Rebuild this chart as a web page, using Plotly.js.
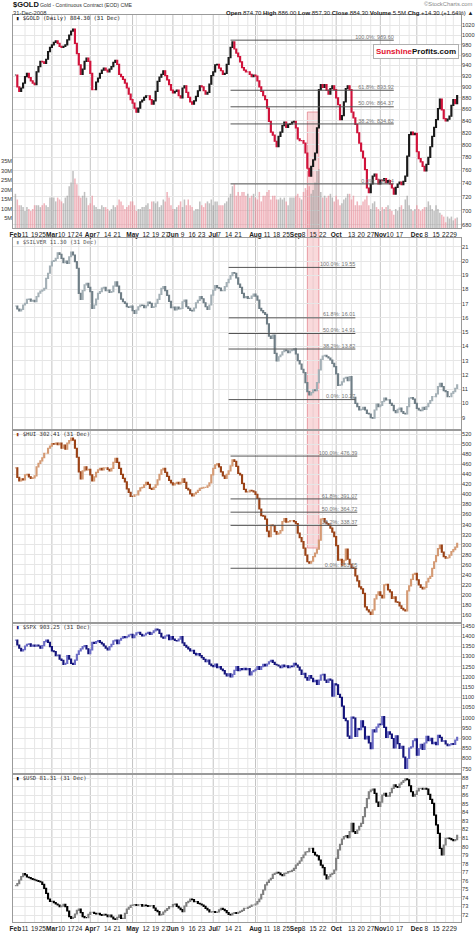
<!DOCTYPE html>
<html><head><meta charset="utf-8">
<script src="https://cdn.plot.ly/plotly-3.0.1.min.js"></script>
<style>html,body{margin:0;padding:0;background:#fff;}#chart{width:476px;height:933px;}</style>
</head><body><div id="chart"></div>
<script>
// ---------- DATA ----------
const holidays = ['2008-02-18','2008-03-21','2008-05-26','2008-07-04','2008-09-01','2008-11-27','2008-12-25'];

const goldClose = [922,900,892,898,907,919,925,917,911,907,
904,928,938,948,947,944,952,967,975,980,
985,988,983,977,975,977,980,990,1000,1008,
1012,983,963,941,923,933,948,954,948,925,
895,895,909,916,925,931,935,931,928,933,
938,946,950,942,923,919,914,907,898,887,
877,871,862,855,862,873,876,881,884,884,
877,869,875,892,910,918,923,930,921,913,
904,894,889,892,894,884,880,898,902,890,
881,873,869,875,883,893,902,900,893,887,
890,905,921,928,941,942,935,930,923,925,
942,955,975,986,972,964,957,947,936,931,
928,928,923,919,922,920,911,900,892,884,
877,862,839,821,816,806,797,814,821,832,
838,829,834,835,838,839,828,810,807,807,
803,787,763,751,766,776,787,828,895,904,
899,904,894,887,897,902,895,880,868,842,
849,873,897,902,895,855,845,834,820,803,
790,779,761,733,726,739,751,754,746,739,
745,744,747,741,744,739,733,724,734,739,
742,738,743,751,782,817,821,817,819,789,
778,773,766,759,769,780,797,814,829,842,
861,878,859,844,840,843,848,867,877,870,
884.3];

const goldVolumeM = [18,15,12,12,11,9,11,10,9,10,
12,12,12,11,12,13,12,11,16,16,
16,14,16,15,14,13,16,17,22,24,
30,26,23,17,16,17,19,16,12,13,
17,12,11,10,10,12,11,11,10,9,
10,12,11,12,15,14,12,10,11,12,
14,14,12,9,10,10,11,11,12,13,
10,14,14,13,14,11,12,15,14,19,
16,12,10,10,11,12,14,11,15,12,
15,12,11,9,10,10,14,12,11,13,
14,13,15,12,14,14,12,12,12,13,
14,16,18,22,23,17,19,17,19,19,
17,18,16,17,18,16,15,19,14,17,
17,19,20,15,17,17,15,15,16,15,
16,14,12,16,16,16,17,18,16,15,
19,21,20,22,18,20,24,30,31,19,
16,17,16,17,18,16,14,17,15,12,
13,15,16,18,18,15,17,12,14,12,
12,14,15,17,12,10,13,14,11,10,
9,11,10,11,12,10,9,7,10,9,
11,12,10,15,17,12,10,9,10,12,
10,9,10,11,11,14,12,10,9,12,
10,8,7,6,3,6,5,6,4,5,
5.5];

const silverClose = [16.84,16.63,16.49,16.6,16.91,17.03,17.31,17.33,17.19,17.24,
17.14,17.5,17.75,17.89,17.96,18.08,18.78,19.14,19.65,19.98,
20.02,20.19,20.58,20.47,20.19,19.88,20.0,19.84,20.3,20.63,
20.42,19.95,19.49,17.73,17.31,17.92,18.32,18.43,18.15,17.85,
16.68,16.91,17.33,17.73,17.85,18.1,18.15,17.92,17.96,17.8,
17.85,18.24,18.53,18.24,17.77,17.33,17.14,17.03,16.79,16.75,
16.84,16.51,16.32,16.56,16.79,16.91,16.88,16.72,16.86,17.12,
17.03,16.75,16.79,17.03,17.31,17.66,18.08,18.2,17.92,17.59,
17.17,16.72,16.77,16.56,16.77,16.63,16.68,17.14,17.26,16.79,
16.68,16.54,16.49,16.7,17.07,17.24,17.5,17.35,17.07,16.79,
16.6,16.91,17.61,17.96,18.27,18.13,18.1,17.92,17.92,18.2,
18.48,18.72,18.97,19.19,19.14,18.81,18.38,18.15,17.73,17.43,
17.5,17.38,17.38,17.54,17.68,17.54,17.26,16.68,16.51,16.37,
16.26,15.58,14.73,14.57,14.8,13.52,12.98,13.28,13.4,13.63,
13.75,13.7,13.56,13.7,13.75,13.84,13.47,13.0,12.77,12.4,
12.16,11.46,10.83,10.6,10.76,10.95,10.9,11.46,12.35,13.1,
13.33,13.38,13.28,13.19,13.05,12.82,12.58,12.07,11.27,11.3,
11.51,11.77,11.84,11.6,11.88,10.37,10.43,10.01,9.78,9.54,
9.59,9.73,9.54,9.31,9.26,9.0,8.96,9.54,9.96,9.78,
9.87,10.13,10.37,10.25,10.25,10.01,9.87,9.5,9.36,9.59,
9.68,9.43,9.31,9.26,9.78,10.37,10.41,10.3,10.01,9.66,
9.54,9.5,9.73,9.59,9.78,10.01,10.2,10.48,10.48,10.67,
11.18,11.41,11.18,10.9,10.83,10.48,10.48,10.71,10.83,11.06,
11.30];

const huiClose = [453,434,427,431,429,439,440,435,432,433,
437,455,462,467,473,482,482,492,496,501,
500,502,499,502,492,498,490,502,507,512,
508,492,474,445,431,447,455,449,450,439,
427,435,444,449,452,449,453,453,450,447,
452,464,472,464,452,440,432,425,411,404,
396,396,399,399,407,413,414,419,424,420,
412,410,414,419,429,440,449,452,444,436,
428,423,419,422,424,421,424,431,424,412,
409,401,397,401,404,408,412,413,414,414,
417,423,439,452,459,461,455,445,437,432,
440,447,457,469,466,456,442,439,422,410,
405,405,408,407,405,400,392,371,358,357,
351,327,316,339,338,326,321,323,328,346,
352,345,346,348,348,346,342,323,314,306,
293,279,266,263,267,276,283,291,309,351,
352,345,342,339,333,325,316,298,269,271,
259,269,291,271,261,254,253,238,228,216,
212,203,176,170,166,161,170,192,200,206,
199,194,220,221,210,206,193,196,186,185,
178,173,170,168,208,218,231,241,243,230,
220,215,212,215,226,233,237,253,266,278,
292,299,285,276,273,274,279,286,290,295,
302.41];

const spxClose = [1380,1356,1340,1327,1333,1351,1359,1361,1350,1356,
1350,1356,1351,1340,1353,1372,1380,1369,1348,1327,
1323,1304,1307,1287,1281,1261,1266,1304,1287,1266,
1261,1282,1310,1327,1337,1348,1353,1337,1314,1332,
1369,1364,1372,1378,1369,1361,1351,1341,1332,1348,
1359,1376,1380,1363,1380,1389,1397,1392,1397,1405,
1408,1392,1405,1415,1418,1408,1400,1405,1413,1418,
1408,1416,1425,1434,1430,1413,1395,1389,1400,1405,
1382,1397,1385,1378,1376,1385,1397,1366,1354,1346,
1337,1327,1330,1315,1307,1314,1304,1294,1286,1274,
1282,1262,1255,1250,1262,1245,1250,1238,1230,1215,
1205,1215,1200,1212,1232,1250,1230,1240,1235,1242,
1235,1240,1209,1225,1230,1237,1250,1237,1250,1261,
1254,1263,1274,1281,1271,1261,1258,1253,1245,1258,
1250,1254,1245,1253,1250,1266,1258,1248,1233,1212,
1217,1196,1184,1206,1193,1176,1183,1163,1184,1209,
1212,1184,1173,1189,1184,1106,1166,1161,1114,1099,
1057,997,985,910,899,1003,998,908,946,941,
985,955,896,909,877,848,941,930,954,968,
966,1005,953,904,930,919,898,852,911,873,
850,859,807,752,800,851,857,887,896,816,
848,870,845,876,909,888,899,873,879,868,
913,904,885,887,871,863,868,873,869,890,
903.25];

const usdClose = [75.43,75.66,76.09,76.48,76.83,76.68,76.44,76.36,76.25,76.17,
76.09,76.01,75.94,75.86,75.59,75.12,74.53,73.87,73.6,73.6,
73.44,73.29,73.17,72.98,73.05,73.25,72.98,72.47,71.81,71.61,
71.73,72.12,72.55,72.7,72.28,71.81,71.69,71.69,72.08,72.31,
72.31,72.2,72.12,72.2,72.04,71.96,72.08,72.0,71.81,72.0,
71.77,71.54,71.5,71.73,72.0,71.61,71.61,72.2,72.7,72.9,
73.13,73.17,73.21,73.13,73.21,73.21,73.05,73.17,73.09,73.02,
73.09,73.09,72.82,72.55,72.39,72.0,72.08,72.35,72.55,72.74,
72.98,72.98,73.21,73.29,73.02,72.82,72.63,72.39,73.05,73.44,
73.6,73.87,73.79,73.56,73.56,73.37,73.29,73.17,73.02,72.78,
72.59,72.35,72.35,72.39,72.31,72.35,72.59,72.78,72.66,72.51,
72.28,72.08,72.0,72.2,72.28,72.2,72.31,72.43,72.55,72.78,
72.78,72.9,73.02,73.17,73.17,73.29,73.56,73.87,74.42,74.92,
75.51,75.82,76.09,76.29,76.75,76.87,76.99,76.91,76.71,76.6,
76.87,76.91,77.06,77.1,77.22,77.45,77.84,78.04,78.31,78.7,
79.01,79.36,79.4,79.79,79.79,79.32,79.01,78.9,78.43,77.84,
77.53,76.68,76.21,76.48,76.75,76.87,77.26,78.62,79.6,80.26,
80.88,81.15,81.27,81.04,81.74,82.71,81.74,81.54,81.93,82.36,
82.71,83.49,84.54,85.6,86.4,86.6,86.7,86.2,85.2,84.7,
85.2,86.0,86.2,85.9,85.9,86.3,86.8,87.2,87.0,86.9,
87.3,87.5,87.7,87.9,87.8,87.1,86.4,85.9,86.1,86.5,
86.8,86.8,86.7,86.8,86.7,86.1,85.5,85.05,83.68,82.52,
81.54,79.79,79.01,80.18,80.96,81.0,80.92,80.8,80.69,80.8,
81.31];

const tickDates = ['2008-02-04','2008-02-11','2008-02-19','2008-02-25','2008-03-03','2008-03-10','2008-03-17','2008-03-24','2008-04-01','2008-04-07','2008-04-14','2008-04-21','2008-04-28','2008-05-01','2008-05-05','2008-05-12','2008-05-19','2008-05-27','2008-06-02','2008-06-09','2008-06-16','2008-06-23','2008-07-01','2008-07-07','2008-07-14','2008-07-21','2008-07-28','2008-08-01','2008-08-04','2008-08-11','2008-08-18','2008-08-25','2008-09-02','2008-09-08','2008-09-15','2008-09-22','2008-09-29','2008-10-01','2008-10-06','2008-10-13','2008-10-20','2008-10-27','2008-11-03','2008-11-10','2008-11-17','2008-11-24','2008-12-01','2008-12-08','2008-12-15','2008-12-22','2008-12-29'];
const tickLabels = ['Feb','11','19','25','Mar','10','17','24','Apr','7','14','21','','May','','12','19','27','Jun','9','16','23','Jul','7','14','21','','Aug','','11','18','25','Sep','8','15','22','','Oct','','13','20','27','Nov','10','17','','Dec','8','15','22','29'];
const monthLabels = ['Feb','Mar','Apr','May','Jun','Jul','Aug','Sep','Oct','Nov','Dec'];
const monthStarts = ['2008-02-04','2008-03-03','2008-04-01','2008-05-01','2008-06-02','2008-07-01','2008-08-01','2008-09-02','2008-10-01','2008-11-03','2008-12-01'];

const fibNames = ['100.0%','61.8%','50.0%','38.2%','0.0%'];
const goldFib = [989.60, 893.92, 864.37, 834.82, 739.14];
const silverFib = [19.55, 16.01, 14.91, 13.82, 10.27];
const huiFib = [476.39, 391.07, 364.72, 338.37, 253.05];
const goldFibDates = ['2008-07-15','2008-11-12'];
const silverFibDates = ['2008-07-14','2008-10-15'];
const huiFibDates = ['2008-07-15','2008-10-16'];
const bandDates = ['2008-09-10','2008-09-18'];
const goldHeaderOHL = [874.70, 886.00, 857.30];
const goldLastVolume = '5.5M';

const goldTicks = [680,700,720,740,760,780,800,820,840,860,880,900,920,940,960,980,1000,1020];
const volTicks = [5,10,15,20,25,30,35];
const silverTicks = [9,10,11,12,13,14,15,16,17,18,19,20,21];
const huiTicks = [160,180,200,220,240,260,280,300,320,340,360,380,400,420,440,460,480,500,520];
const spxTicks = [750,800,850,900,950,1000,1050,1100,1150,1200,1250,1300,1350,1400,1450];
const usdTicks = [72,73,74,75,76,77,78,79,80,81,82,83,84,85,86,87,88];

// ---------- BUILD ----------
function tradingDays(){
  const out=[]; let t=Date.UTC(2008,1,4); const end=Date.UTC(2008,11,31);
  while(t<=end){const d=new Date(t);const wd=d.getUTCDay();const s=d.toISOString().slice(0,10);
    if(wd!==0&&wd!==6&&!holidays.includes(s)) out.push(s); t+=86400000;}
  return out;
}
const days = tradingDays();
const pos = d => days.indexOf(d);
const X = days.map((d,i)=>i);

function candle(close, xa, ya, upLine, upFill, dnLine, dnFill){
  const open = close.map((c,i)=> i===0 ? c : close[i-1]);
  return {type:'candlestick', x:X, open:open,
    high: close.map((c,i)=>Math.max(c,open[i])), low: close.map((c,i)=>Math.min(c,open[i])),
    close:close, xaxis:xa, yaxis:ya, whiskerwidth:0, hoverinfo:'skip', showlegend:false,
    increasing:{line:{color:upLine,width:1.2}, fillcolor:upFill},
    decreasing:{line:{color:dnLine,width:1.2}, fillcolor:dnFill}};
}
function fibTraces(levels, dates, xa, ya){
  const x0=pos(dates[0]), x1=pos(dates[1]); const tr=[];
  levels.forEach((v,k)=>{
    tr.push({type:'scatter',mode:'lines',x:[x0,x1],y:[v,v],xaxis:xa,yaxis:ya,
      line:{color:'#555',width:1},hoverinfo:'skip',showlegend:false});
  });
  tr.push({type:'scatter',mode:'text',x:levels.map(()=>x1),y:levels,xaxis:xa,yaxis:ya,
    text:levels.map((v,k)=>fibNames[k]+': '+v.toFixed(2)),textposition:'top left',
    textfont:{family:'Liberation Sans',size:5.5,color:'#777'},hoverinfo:'skip',showlegend:false});
  return tr;
}

const volColors = goldClose.map((c,i)=> (i>0 && c<goldClose[i-1]) ? 'rgba(232,140,152,0.65)' : 'rgba(150,150,150,0.6)');

const traces = [
  {type:'bar', x:X, y:goldVolumeM.map(v=>v*1e6), xaxis:'x', yaxis:'y', marker:{color:volColors,line:{width:0}}, hoverinfo:'skip', showlegend:false},
  candle(goldClose,'x','y2','#1a1a1a','#1a1a1a','#d0123a','#d0123a'),
  ...fibTraces(goldFib, goldFibDates, 'x','y2'),
  candle(silverClose,'x2','y3','#a4b0b6','#c4ccd0','#6f7e86','#6f7e86'),
  ...fibTraces(silverFib, silverFibDates, 'x2','y3'),
  candle(huiClose,'x3','y4','#d49a74','#e8c0a4','#9a4216','#9a4216'),
  ...fibTraces(huiFib, huiFibDates, 'x3','y4'),
  candle(spxClose,'x4','y5','#6a6ac4','#9a9ad8','#13137a','#13137a'),
  candle(usdClose,'x5','y6','#808080','#a0a0a0','#000000','#000000')
];

const tickPos = tickDates.map(pos);
const tickText = tickLabels.map(t => monthLabels.includes(t) ? '<b>'+t+'</b>' : t);

const PT=15, PB=922, H=PB-PT; const PL=13, PR=461, W=PR-PL;
const fy = py => (PB-py)/H;
const fx = px => (px-PL)/W;

const gridC='#e6e6e6', lineC='#9a9a9a';
const tf = {family:'Liberation Sans', size:5.6, color:'#333'};
const xBase = {range:[-1.25,232], tickvals:tickPos, ticktext:tickText, showgrid:false,
  zeroline:false, showline:true, linecolor:lineC, linewidth:1, mirror:true, ticks:'', ticklen:0, fixedrange:true,
  tickfont:{family:'Liberation Sans', size:6.5, color:'#222'}, rangeslider:{visible:false}, tickangle:0};
const yBase = {side:'right', showgrid:true, gridcolor:gridC, gridwidth:1, zeroline:false, showline:true, linecolor:lineC,
  linewidth:1, mirror:true, ticks:'', ticklen:0, ticklabelstandoff:-1, tickfont:tf, fixedrange:true};

const dGold=[fy(228),1], dSil=[fy(430),fy(238)], dHui=[fy(623),fy(430)], dSpx=[fy(774),fy(623)], dUsd=[0,fy(774)];

const layout = {
  width:476, height:933, margin:{l:PL,r:476-PR,t:PT,b:933-PB},
  paper_bgcolor:'#ffffff', plot_bgcolor:'rgba(0,0,0,0)', showlegend:false, hovermode:false, dragmode:false,
  font:{family:'Liberation Sans', size:7, color:'#222'},
  xaxis:{...xBase, anchor:'y', domain:[0,1], showticklabels:true},
  xaxis2:{...xBase, anchor:'y3', matches:'x', showticklabels:false},
  xaxis3:{...xBase, anchor:'y4', matches:'x', showticklabels:false},
  xaxis4:{...xBase, anchor:'y5', matches:'x', showticklabels:false},
  xaxis5:{...xBase, anchor:'y6', matches:'x', showticklabels:true},
  yaxis:{domain:dGold, side:'left', range:[0,(228-PT)/1.9*1e6], tickvals:volTicks.map(v=>v*1e6), ticktext:volTicks.map(v=>v+'M'),
    showgrid:false, zeroline:false, showline:false, ticks:'', tickfont:tf, fixedrange:true},
  yaxis2:{...yBase, domain:dGold, overlaying:'y', anchor:'x', type:'log',
    range:[Math.log10(1000*Math.exp((35-228)/492.6)), Math.log10(1000*Math.exp((35-PT)/492.6))], tickvals:goldTicks},
  yaxis3:{...yBase, domain:dSil, anchor:'x2', range:[20-(430-261)/14.245, 20+(261-238)/14.245], tickvals:silverTicks},
  yaxis4:{...yBase, domain:dHui, anchor:'x3', range:[460-(623-464.3)/0.5023, 460+(464.3-430)/0.5023], tickvals:huiTicks},
  yaxis5:{...yBase, domain:dSpx, anchor:'x4', range:[1400-(774-636)/0.2042, 1400+(636-623)/0.2042], tickvals:spxTicks},
  yaxis6:{...yBase, domain:dUsd, anchor:'x5', range:[84-(922-812.3)/8.56, 84+(812.3-774)/8.56], tickvals:usdTicks},
  shapes:[], annotations:[]
};

// vertical gridlines: weekly (light) and month starts (darker), drawn beneath the traces
const gridPos = tickPos.filter(p => !monthStarts.map(pos).includes(p));
[['x','y'],['x2','y3'],['x3','y4'],['x4','y5'],['x5','y6']].forEach(([xa,ya])=>{
  gridPos.forEach(p=>{
    layout.shapes.push({type:'line', xref:xa, yref:ya+' domain', x0:p, x1:p, y0:0, y1:1, line:{color:'#e6e6e6', width:1}, layer:'below'});
  });
  monthStarts.slice(1).map(pos).forEach(p=>{
    layout.shapes.push({type:'line', xref:xa, yref:ya+' domain', x0:p, x1:p, y0:0, y1:1, line:{color:'#c4c4c4', width:1}, layer:'below'});
  });
});
// highlighted band
layout.shapes.push({type:'rect', xref:'x', yref:'paper', x0:pos(bandDates[0]), x1:pos(bandDates[1]), y0:fy(548), y1:fy(112),
  fillcolor:'rgba(240,160,165,0.40)', line:{color:'rgba(225,120,130,0.7)', width:1}, layer:'below'});

const A = layout.annotations;
function ann(text, px, py, opts){ A.push(Object.assign({text:text, xref:'paper', yref:'paper', x:fx(px), y:fy(py),
  showarrow:false, xanchor:'left', yanchor:'middle', font:{family:'Liberation Sans', size:6, color:'#222'}}, opts||{})); }

const last = a => a[a.length-1];
const chg = last(goldClose)-goldClose[goldClose.length-2];
ann('<b>$GOLD</b>', 11, 4.5, {font:{family:'Liberation Sans', size:7.5, color:'#111'}});
ann('Gold - Continuous Contract (EOD) CME', 38, 4.8, {font:{family:'Liberation Sans', size:5.2, color:'#333'}});
ann('31-Dec-2008', 11, 12.5, {font:{family:'Liberation Sans', size:5.8, color:'#333'}});
ann('©StockCharts.com', 475, 4.2, {xanchor:'right', font:{family:'Liberation Sans', size:5.8, color:'#888'}});
ann('<b>Open</b> '+goldHeaderOHL[0].toFixed(2)+' <b>High</b> '+goldHeaderOHL[1].toFixed(2)+' <b>Low</b> '+goldHeaderOHL[2].toFixed(2)+
    ' <b>Close</b> '+last(goldClose).toFixed(2)+' <b>Volume</b> '+goldLastVolume+' <b>Chg</b> +'+chg.toFixed(2)+
    ' (+'+(chg/goldClose[goldClose.length-2]*100).toFixed(2)+'%) ▲', 475, 12.5,
    {xanchor:'right', font:{family:'Liberation Sans', size:6, color:'#222'}});

const mono = (c)=>({family:'DejaVu Sans Mono', size:5.6, color:c});
ann('<span style="color:#111">▮</span> $GOLD (Daily) '+last(goldClose).toFixed(2)+' (31 Dec)', 14, 18.3, {font:mono('#222')});
ann('<span style="color:#8a969c">▮</span> $SILVER '+last(silverClose).toFixed(2)+' (31 Dec)', 14, 242.5, {font:mono('#555')});
ann('<span style="color:#9a4216">▮</span> $HUI '+last(huiClose).toFixed(2)+' (31 Dec)', 14, 434.3, {font:mono('#333')});
ann('<span style="color:#13137a">▮</span> $SPX '+last(spxClose).toFixed(2)+' (31 Dec)', 14, 627.3, {font:mono('#333')});
ann('<span style="color:#000">▮</span> $USD '+last(usdClose).toFixed(2)+' (31 Dec)', 14, 778.3, {font:mono('#333')});

// logo
A.push({text:'<b><span style="color:#e3122f">Sunshine</span><span style="color:#111">Profits.com</span></b>', xref:'paper', yref:'paper',
  x:fx(416), y:fy(52), xanchor:'center', yanchor:'middle', showarrow:false, bgcolor:'#ffffff', bordercolor:'#b0b0b0',
  borderwidth:1, borderpad:2, font:{family:'Liberation Sans', size:8, color:'#111'}});

if(goldClose.length!==days.length||silverClose.length!==days.length||huiClose.length!==days.length||spxClose.length!==days.length||usdClose.length!==days.length||goldVolumeM.length!==days.length){
  console.error('length mismatch', days.length, goldClose.length, goldVolumeM.length, silverClose.length, huiClose.length, spxClose.length, usdClose.length);
}

Plotly.newPlot('chart', traces, layout, {staticPlot:true, displayModeBar:false});
</script></body></html>
